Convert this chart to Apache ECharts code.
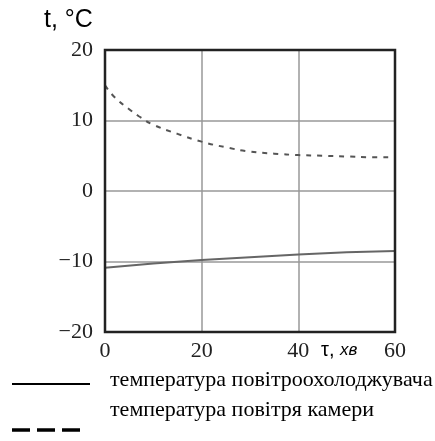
<!DOCTYPE html>
<html><head><meta charset="utf-8">
<script src="https://cdn.jsdelivr.net/npm/echarts@6/dist/echarts.min.js"></script>
<style>html,body{margin:0;padding:0;background:#fff}#c{width:435px;height:441px}</style>
</head><body><div id="c"></div>
<script>
const xTicks = [0, 20, 40, 60];
const yTicks = [-20, -10, 0, 10, 20];
const timeMin = [0, 2, 5, 7, 10, 15, 20, 25, 30, 35, 40, 45, 50, 55, 60];
const cameraAir = [15, 13.3, 11.6, 10.6, 9.4, 8.1, 7.0, 6.2, 5.6, 5.3, 5.1, 5.0, 4.9, 4.8, 4.8];
const coolerTime = [0, 10, 20, 30, 40, 50, 60];
const coolerTemp = [-10.9, -10.3, -9.8, -9.4, -9.0, -8.7, -8.5];
const legendNames = ['температура повітроохолоджувача', 'температура повітря камери'];

const chart = echarts.init(document.getElementById('c'));
const serif = 'Liberation Serif';
const G = {left: 105, top: 50, right: 40, bottom: 109};
const fmt = v => String(v).replace('-', '\u2212');
chart.setOption({
  animation: false,
  grid: {left: G.left, right: G.right, top: G.top, bottom: G.bottom},
  xAxis: {type: 'value', min: xTicks[0], max: xTicks[xTicks.length-1], interval: 20,
    axisLine: {show: false}, axisTick: {show: false},
    axisLabel: {color: '#222', fontFamily: serif, fontSize: 22, margin: 8, formatter: fmt},
    splitLine: {show: true, lineStyle: {color: '#999', width: 1.5}}},
  yAxis: {type: 'value', min: yTicks[0], max: yTicks[yTicks.length-1], interval: 10,
    axisLine: {show: false}, axisTick: {show: false},
    axisLabel: {color: '#222', fontFamily: serif, fontSize: 22, margin: 12, formatter: fmt},
    splitLine: {show: true, lineStyle: {color: '#999', width: 1.5}}},
  series: [
    {name: legendNames[0], type: 'line', showSymbol: false, data: coolerTime.map((t,i)=>[t, coolerTemp[i]]),
      lineStyle: {color: '#666', width: 2}},
    {name: legendNames[1], type: 'line', showSymbol: false, smooth: true, data: timeMin.map((t,i)=>[t, cameraAir[i]]),
      lineStyle: {color: '#555', width: 2, type: [5, 6]}}
  ],
  graphic: [
    {type: 'rect', z: 100, shape: {x: G.left, y: G.top, width: 435 - G.left - G.right, height: 441 - G.top - G.bottom},
      style: {fill: 'none', stroke: '#222', lineWidth: 2.5}},
    {type: 'text', left: 44, top: 8, style: {text: 't, °C', font: '25px "Liberation Sans"', fill: '#000'}},
    {type: 'text', left: 321, top: 340, style: {rich: {a: {font: '20px "Liberation Sans"', fill: '#000'}, b: {font: 'italic 17px "Liberation Sans"', fill: '#000'}}, text: '{a|τ, }{b|хв}'}},
    {type: 'line', shape: {x1: 12, y1: 384, x2: 90, y2: 384}, style: {stroke: '#000', lineWidth: 1.8}},
    {type: 'text', left: 110, top: 369, style: {text: legendNames[0], font: '22px "Liberation Serif"', fill: '#000'}},
    {type: 'line', shape: {x1: 12, y1: 430, x2: 81, y2: 430}, style: {stroke: '#000', lineWidth: 3.5, lineDash: [18, 7]}},
    {type: 'text', left: 110, top: 399, style: {text: legendNames[1], font: '22px "Liberation Serif"', fill: '#000'}}
  ]
});
</script></body></html>
